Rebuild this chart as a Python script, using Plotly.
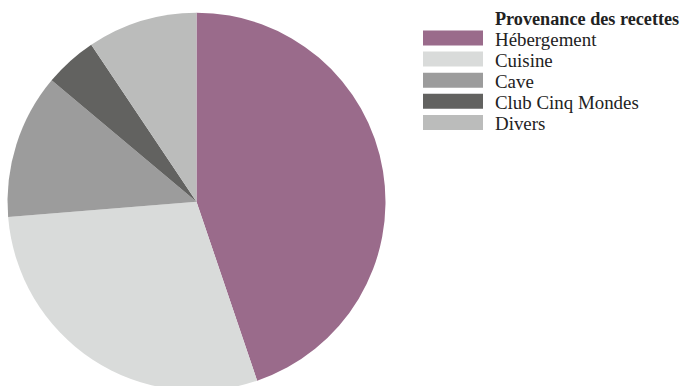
import plotly.graph_objects as go

categories = ["Hébergement", "Cuisine", "Cave", "Club Cinq Mondes", "Divers"]
values = [44.8, 28.9, 12.4, 4.5, 9.4]
colors = ["#9a6b8b", "#d9dbda", "#9c9c9c", "#626260", "#bbbcbb"]
legend_title = "Provenance des recettes"

W, H = 684, 392
FONT = "Liberation Serif"

def px_x(x):
    return x / W

def px_y(y):
    return 1 - y / H

fig = go.Figure()
fig.add_trace(go.Pie(
    labels=categories, values=values, sort=False, direction="clockwise",
    rotation=0, marker=dict(colors=colors, line=dict(width=0)),
    textinfo="none", hoverinfo="label+percent", showlegend=False,
    domain=dict(x=[px_x(7.5), px_x(385.5)], y=[px_y(390.7), px_y(12.7)]),
))

shapes = []
annotations = [dict(x=px_x(493), y=px_y(18.5), xref="paper", yref="paper",
                    text="<b>" + legend_title + "</b>", showarrow=False,
                    xanchor="left", yanchor="middle",
                    font=dict(family=FONT, size=18.2, color="#222222"))]
top0, step, sh = 30.5, 21.1, 15
for i, (cat, col) in enumerate(zip(categories, colors)):
    t = top0 + i * step
    shapes.append(dict(type="rect", xref="paper", yref="paper",
                       x0=px_x(423), x1=px_x(483), y0=px_y(t + sh), y1=px_y(t),
                       fillcolor=col, line=dict(width=0)))
    annotations.append(dict(x=px_x(493), y=px_y(t + sh / 2 + 1.5), xref="paper", yref="paper",
                            text=cat, showarrow=False, xanchor="left", yanchor="middle",
                            font=dict(family=FONT, size=18.9, color="#222222")))

fig.update_layout(
    width=W, height=H, margin=dict(l=0, r=0, t=0, b=0),
    paper_bgcolor="white", plot_bgcolor="white",
    shapes=shapes, annotations=annotations,
)

fig.write_html("out.html", config={"displayModeBar": False}, post_script=(
    "document.body.style.margin='0';document.body.style.padding='0';"
    "document.body.style.overflow='hidden';document.documentElement.style.overflow='hidden';"))
